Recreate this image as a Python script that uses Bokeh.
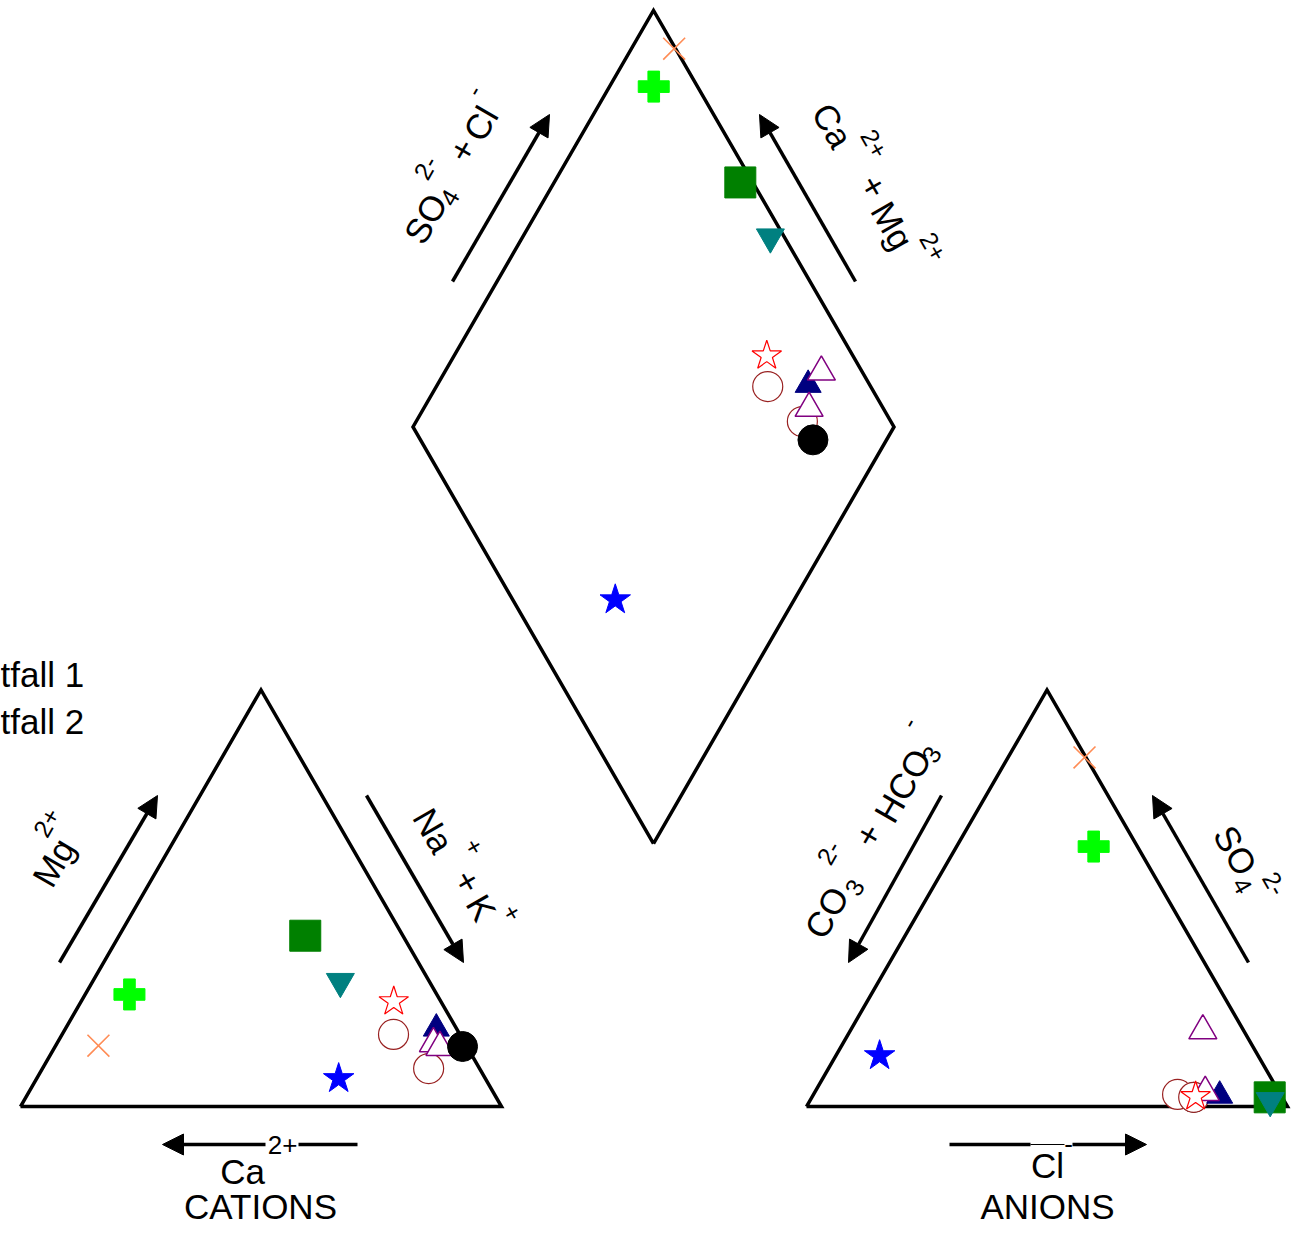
import numpy as np
from bokeh.plotting import figure
from bokeh.models import Range1d, Arrow, NormalHead
from bokeh.core.properties import value
from bokeh.embed import file_html
from bokeh.resources import INLINE

# ---------------- data (percent of meq) ----------------
samples = ["S01", "S02", "S03", "S04", "S05", "S06",
           "S07", "S08", "S09", "S10", "S11", "S12"]
ca   = [76.5, 63.9, 20.3, 18.5, 30.5, 13.8, 10.6, 4.2, 6.6, 5.7, 9.8, 0.9]
mg   = [14.6, 26.9, 41.0, 30.0, 6.7, 17.3, 9.1, 18.7, 15.1, 14.2, 25.2, 14.4]
nak  = [8.9, 9.2, 38.7, 51.5, 62.8, 68.9, 80.3, 77.1, 78.3, 80.1, 65.0, 84.7]
hco3 = [0.3, 9.1, 2.6, 2.9, 78.7, 21.4, 18.4, 12.8, 8.5, 15.4, 17.9, 18.4]
so4  = [83.8, 62.4, 2.2, 1.4, 12.2, 2.9, 2.2, 2.6, 18.2, 3.4, 2.4, 2.2]
cl   = [15.9, 28.5, 95.2, 95.7, 9.1, 75.7, 79.4, 84.6, 73.3, 81.2, 79.7, 79.4]
legend_labels = ["tfall 1", "tfall 2"]

# ---------------- marker styles ----------------
markers = ["x", "plus", "square", "inverted_triangle", "star", "circle",
           "circle", "triangle", "triangle", "triangle", "star", "circle"]
sizes   = [31, 31, 31, 28, 32, 30, 30, 26, 28, 28, 31, 30]
fills   = ["#FF8C55", "#00FF00", "#008000", "#008080", "#0000FF", "white",
           "white", "#000080", "white", "white", "white", "black"]
lines   = ["#FF8C55", "#00FF00", "#008000", "#008080", "#0000FF", "#992222",
           "#992222", "#000080", "#800080", "#800080", "#FF0000", "black"]
lwidths = [1.6, 1, 1, 1, 1, 1.2, 1.2, 1, 1.5, 1.5, 1.2, 1]

# ---------------- layout ----------------
W, H = 1291, 1225
SIDE = 481.0
HT = SIDE * np.sqrt(3) / 2
CX0, CY0 = 20.0, 1106.0      # cation triangle bottom-left
AX0, AY0 = 806.0, 1106.0     # anion triangle bottom-left
DX0, DY0 = 653.0, 843.0      # diamond bottom vertex
FONT = value("Liberation Sans")
LW = 3.5

p = figure(width=W, height=H, x_range=Range1d(0, W), y_range=Range1d(H, 0),
           output_backend="svg", toolbar_location=None, min_border=0,
           x_axis_location=None, y_axis_location=None)
p.grid.visible = False
p.outline_line_color = None
p.background_fill_color = "white"
p.border_fill_color = "white"

# frames
p.line([CX0, CX0 + SIDE, CX0 + SIDE / 2, CX0], [CY0, CY0, CY0 - HT, CY0],
       line_color="black", line_width=LW, line_join="miter")
p.line([AX0, AX0 + SIDE, AX0 + SIDE / 2, AX0], [AY0, AY0, AY0 - HT, AY0],
       line_color="black", line_width=LW, line_join="miter")
p.line([DX0, DX0 + SIDE / 2, DX0, DX0 - SIDE / 2, DX0],
       [DY0, DY0 - HT, DY0 - 2 * HT, DY0 - HT, DY0],
       line_color="black", line_width=LW, line_join="miter")

# ---------------- transforms ----------------
ca_a, mg_a, na_a = np.array(ca), np.array(mg), np.array(nak)
hc_a, so_a, cl_a = np.array(hco3), np.array(so4), np.array(cl)
cat_x = CX0 + SIDE * (na_a + mg_a / 2) / 100
cat_y = CY0 - HT * mg_a / 100
an_x = AX0 + SIDE * (cl_a + so_a / 2) / 100
an_y = AY0 - HT * so_a / 100
u = (so_a + cl_a) / 100
v = (ca_a + mg_a) / 100
dia_x = DX0 + SIDE / 2 * (u - v)
dia_y = DY0 - HT * (u + v)

n = len(samples)
order_std = list(range(n))
order_an = [n - 1] + list(range(n - 1))

def draw(xs, ys, order):
    for i in order:
        p.scatter([xs[i]], [ys[i]], marker=markers[i], size=sizes[i],
                  fill_color=fills[i], line_color=lines[i], line_width=lwidths[i])

draw(cat_x, cat_y, order_std)
draw(dia_x, dia_y, order_std)
draw(an_x, an_y, order_an)

# ---------------- arrows ----------------
def arrow(x0, y0, x1, y1, head=True):
    p.add_layout(Arrow(x_start=x0, y_start=y0, x_end=x1, y_end=y1,
                       end=NormalHead(size=21, fill_color="black", line_color="black",
                                      line_width=1) if head else None,
                       line_width=LW, line_color="black"))

arrow(59, 962, 157, 795)
arrow(366, 795, 463, 962)
arrow(265, 1144, 162, 1144)
p.line([298, 357], [1144, 1144], line_color="black", line_width=LW)
arrow(941, 795, 848, 962)
arrow(1248, 962, 1152, 795)
p.line([949, 1030], [1144, 1144], line_color="black", line_width=LW)
p.line([1030, 1064], [1144, 1144], line_color="black", line_width=1)
arrow(1072, 1144, 1146, 1144)
arrow(452, 281, 549, 114)
arrow(855, 281, 759, 114)

# ---------------- texts ----------------
def txt(x, y, s, size, angle=0.0, align="center"):
    p.text(x=[x], y=[y], text=[s], angle=angle, text_font=FONT,
           text_font_size=f"{size}px", text_align=align, text_baseline="middle",
           text_color="black")

A = np.pi / 3
BIG, SML = 35, 25
# diamond left
for s, x, y, f in [("SO", 425, 218, BIG), ("4", 449, 197, SML), ("2-", 425, 167, SML),
                   ("+", 462, 150, BIG), ("Cl", 480, 123, BIG), ("-", 473, 90, SML)]:
    txt(x, y, s, f, A)
# diamond right
for s, x, y, f in [("Ca", 832, 125, BIG), ("2+", 874, 143, SML), ("+", 873, 186, BIG),
                   ("Mg", 892, 225, BIG), ("2+", 933, 246, SML)]:
    txt(x, y, s, f, -A)
# cation Mg
for s, x, y, f in [("Mg", 53, 862, BIG), ("2+", 46, 822, SML)]:
    txt(x, y, s, f, A)
# cation Na + K
for s, x, y, f in [("Na", 433, 830, BIG), ("+", 474, 846, SML), ("+", 467, 881, BIG),
                   ("K", 481, 907, BIG), ("+", 512, 912, SML)]:
    txt(x, y, s, f, -A)
# anion CO3 + HCO3
for s, x, y, f in [("CO", 826, 912, BIG), ("3", 854, 887, SML), ("2-", 828, 852, SML),
                   ("+", 868, 835, BIG), ("HCO", 902, 785, BIG), ("3", 931, 754, SML),
                   ("-", 908, 722, SML)]:
    txt(x, y, s, f, A)
# anion SO4
for s, x, y, f in [("SO", 1235, 850, BIG), ("4", 1242, 885, SML), ("2-", 1274, 883, SML)]:
    txt(x, y, s, f, -A)

# bottom labels
txt(242, 1171, "Ca", BIG)
txt(282, 1144, "2+", 26)
txt(260, 1206, "CATIONS", BIG)
txt(1047, 1165, "Cl", BIG)
txt(1068, 1143, "-", 26)
txt(1047, 1206, "ANIONS", BIG)

# legend (partially visible in the original)
txt(0, 674, legend_labels[0], BIG, align="left")
txt(0, 721, legend_labels[1], BIG, align="left")

open("out.html", "w").write(file_html(p, INLINE))
